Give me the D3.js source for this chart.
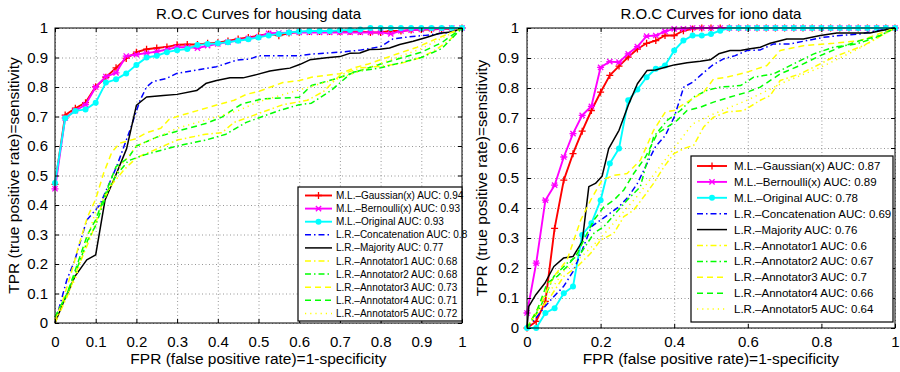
<!DOCTYPE html>
<html>
<head>
<meta charset="utf-8">
<script src="https://cdn.jsdelivr.net/npm/d3@7/dist/d3.min.js"></script>
<style>
  body { margin: 0; background: #fff; }
  svg { display: block; }
  text { font-family: "Liberation Sans", Arial, Helvetica, sans-serif; fill: #000; }
</style>
</head>
<body>
<svg id="chart" width="900" height="372"></svg>
<script>
// ---- shared tick values ----
const yTicks = [0, 0.1, 0.2, 0.3, 0.4, 0.5, 0.6, 0.7, 0.8, 0.9, 1];
const housingXTicks = [0, 0.1, 0.2, 0.3, 0.4, 0.5, 0.6, 0.7, 0.8, 0.9, 1];
const ionoXTicks = [0, 0.2, 0.4, 0.6, 0.8, 1];

// ---- series names and AUC values (legend) ----
const seriesNames = [
  "M.L.\u2013Gaussian(x)", "M.L.\u2013Bernoulli(x)", "M.L.\u2013Original",
  "L.R.\u2013Concatenation", "L.R.\u2013Majority",
  "L.R.\u2013Annotator1", "L.R.\u2013Annotator2", "L.R.\u2013Annotator3",
  "L.R.\u2013Annotator4", "L.R.\u2013Annotator5"
];
const housingAuc = ["0.94", "0.93", "0.93", "0.8", "0.77", "0.68", "0.68", "0.73", "0.71", "0.72"];
const ionoAuc = ["0.87", "0.89", "0.78", "0.69", "0.76", "0.6", "0.67", "0.7", "0.66", "0.64"];

// ---- FPR grid used by the marked (M.L.) curves ----
const gridFpr = [0, 0.025, 0.05, 0.075, 0.1, 0.125, 0.15, 0.175, 0.2, 0.225, 0.25, 0.275, 0.3, 0.325,
  0.35, 0.375, 0.4, 0.425, 0.45, 0.475, 0.5, 0.525, 0.55, 0.575, 0.6, 0.625, 0.65, 0.675, 0.7,
  0.725, 0.75, 0.775, 0.8, 0.825, 0.85, 0.875, 0.9, 0.925, 0.95, 0.975, 1];

// ---- housing data: TPR on the FPR grid ----
const housingGaussianTpr = [0.47, 0.705, 0.728, 0.747, 0.801, 0.833, 0.865, 0.897, 0.918, 0.928,
  0.932, 0.936, 0.943, 0.944, 0.944, 0.948, 0.95, 0.956, 0.963, 0.968,
  0.974, 0.98, 0.974, 0.983, 0.986, 0.988, 0.988, 0.988, 0.988, 0.988,
  0.988, 0.985, 0.985, 0.99, 0.99, 0.993, 0.995, 0.995, 0.997, 0.997, 1];
const housingBernoulliTpr = [0.455, 0.695, 0.72, 0.74, 0.8, 0.835, 0.848, 0.905, 0.91, 0.915,
  0.92, 0.927, 0.935, 0.935, 0.932, 0.94, 0.946, 0.952, 0.958, 0.965,
  0.97, 0.982, 0.983, 0.984, 0.985, 0.985, 0.985, 0.985, 0.985, 0.985,
  0.985, 0.985, 0.985, 0.98, 0.99, 0.993, 0.995, 0.997, 0.997, 1, 1];
const housingOriginalTpr = [0.475, 0.694, 0.719, 0.724, 0.747, 0.815, 0.826, 0.846, 0.875, 0.9,
  0.906, 0.918, 0.925, 0.929, 0.942, 0.946, 0.948, 0.952, 0.957, 0.962,
  0.968, 0.975, 0.98, 0.985, 0.988, 0.99, 0.99, 0.99, 0.992, 0.993,
  0.995, 1, 1, 1, 1, 1, 1, 1, 1, 1, 1];

// ---- housing data: [FPR, TPR] points for the L.R. curves ----
const housingConcatenation = [[0, 0], [0.029, 0.146], [0.049, 0.214], [0.078, 0.349], [0.11, 0.4],
  [0.151, 0.529], [0.184, 0.653], [0.209, 0.755], [0.225, 0.8], [0.24, 0.818], [0.274, 0.829],
  [0.299, 0.846], [0.349, 0.858], [0.397, 0.869], [0.446, 0.891], [0.479, 0.895], [0.5, 0.906],
  [0.6, 0.906], [0.634, 0.912], [0.7, 0.918], [0.75, 0.925], [0.8, 0.937], [0.83, 0.963],
  [0.87, 0.97], [0.91, 0.975], [0.97, 0.985], [1, 1]];
const housingMajority = [[0, 0], [0.02, 0.068], [0.049, 0.158], [0.078, 0.214], [0.1, 0.231],
  [0.123, 0.417], [0.151, 0.507], [0.176, 0.591], [0.2, 0.738], [0.225, 0.766], [0.266, 0.771],
  [0.3, 0.775], [0.348, 0.788], [0.372, 0.813], [0.397, 0.822], [0.43, 0.831], [0.462, 0.831],
  [0.495, 0.842], [0.528, 0.854], [0.552, 0.859], [0.577, 0.864], [0.601, 0.876], [0.626, 0.892],
  [0.667, 0.899], [0.7, 0.903], [0.724, 0.914], [0.749, 0.915], [0.773, 0.927], [0.798, 0.928],
  [0.822, 0.932], [0.847, 0.944], [0.88, 0.955], [0.912, 0.968], [0.945, 0.982], [0.978, 0.987], [1, 1]];
const housingAnnotator1 = [[0, 0], [0.03, 0.09], [0.06, 0.2], [0.09, 0.3], [0.12, 0.42], [0.14, 0.47],
  [0.17, 0.52], [0.2, 0.56], [0.25, 0.59], [0.3, 0.62], [0.37, 0.64], [0.41, 0.645], [0.44, 0.68],
  [0.47, 0.695], [0.51, 0.715], [0.56, 0.74], [0.62, 0.755], [0.66, 0.785], [0.7, 0.84], [0.75, 0.865],
  [0.8, 0.87], [0.85, 0.88], [0.9, 0.9], [0.94, 0.93], [0.97, 0.96], [1, 1]];
const housingAnnotator2 = [[0, 0.02], [0.03, 0.1], [0.05, 0.17], [0.08, 0.28], [0.1, 0.33], [0.13, 0.45],
  [0.15, 0.5], [0.18, 0.55], [0.22, 0.57], [0.3, 0.6], [0.37, 0.62], [0.42, 0.64], [0.47, 0.68],
  [0.5, 0.695], [0.55, 0.72], [0.6, 0.74], [0.63, 0.745], [0.68, 0.79], [0.73, 0.85], [0.8, 0.865],
  [0.9, 0.9], [0.95, 0.93], [1, 1]];
const housingAnnotator3 = [[0, 0.01], [0.02, 0.08], [0.04, 0.17], [0.06, 0.27], [0.08, 0.36], [0.1, 0.42],
  [0.12, 0.51], [0.14, 0.58], [0.16, 0.61], [0.2, 0.625], [0.225, 0.645], [0.26, 0.66], [0.28, 0.69],
  [0.3, 0.7], [0.35, 0.72], [0.4, 0.74], [0.44, 0.755], [0.47, 0.775], [0.5, 0.785], [0.53, 0.8],
  [0.56, 0.815], [0.6, 0.822], [0.63, 0.833], [0.7, 0.845], [0.74, 0.867], [0.77, 0.878],
  [0.84, 0.912], [0.89, 0.935], [0.945, 0.968], [1, 1]];
const housingAnnotator4 = [[0, 0.02], [0.03, 0.1], [0.05, 0.18], [0.08, 0.3], [0.1, 0.35], [0.13, 0.46],
  [0.15, 0.53], [0.18, 0.56], [0.2, 0.6], [0.25, 0.63], [0.3, 0.65], [0.37, 0.676], [0.41, 0.698],
  [0.44, 0.726], [0.46, 0.743], [0.51, 0.76], [0.58, 0.764], [0.6, 0.765], [0.63, 0.805], [0.69, 0.828],
  [0.75, 0.856], [0.8, 0.878], [0.855, 0.9], [0.9, 0.918], [0.95, 0.95], [1, 1]];
const housingAnnotator5 = [[0, 0.01], [0.05, 0.15], [0.1, 0.38], [0.13, 0.45], [0.16, 0.53], [0.2, 0.6],
  [0.25, 0.63], [0.3, 0.66], [0.35, 0.68], [0.4, 0.7], [0.45, 0.72], [0.5, 0.75], [0.55, 0.77],
  [0.6, 0.79], [0.7, 0.83], [0.8, 0.88], [0.9, 0.93], [1, 1]];

// ---- iono data: TPR on the FPR grid ----
const ionoGaussianTpr = [0, 0.022, 0.089, 0.332, 0.493, 0.581, 0.656, 0.725, 0.786, 0.842,
  0.873, 0.903, 0.93, 0.949, 0.958, 0.975, 0.975, 0.991, 0.997, 1,
  1, 1, 1, 1, 1, 1, 1, 1, 1, 1, 1, 1, 1, 1, 1, 1, 1, 1, 1, 1, 1];
const ionoBernoulliTpr = [0.05, 0.216, 0.426, 0.476, 0.57, 0.648, 0.709, 0.739, 0.869, 0.888,
  0.886, 0.914, 0.938, 0.973, 0.975, 0.989, 0.997, 0.997, 1, 1,
  1, 1, 1, 1, 1, 1, 1, 1, 1, 1, 1, 1, 1, 1, 1, 1, 1, 1, 1, 1, 1];
const ionoOriginalTpr = [0, 0, 0.05, 0.066, 0.116, 0.138, 0.31, 0.349, 0.426, 0.548,
  0.598, 0.759, 0.795, 0.836, 0.864, 0.875, 0.925, 0.958, 0.975, 0.975,
  0.98, 0.991, 1, 1, 1, 1, 1, 1, 1, 1, 1, 1, 1, 1, 1, 1, 1, 1, 1, 1, 1];

// ---- iono data: [FPR, TPR] points for the L.R. curves ----
const ionoConcatenation = [[0, 0], [0.024, 0.033], [0.049, 0.072], [0.073, 0.105], [0.099, 0.138],
  [0.125, 0.188], [0.15, 0.26], [0.175, 0.338], [0.2, 0.36], [0.225, 0.382], [0.25, 0.404],
  [0.275, 0.437], [0.3, 0.482], [0.326, 0.548], [0.349, 0.604], [0.376, 0.642], [0.4, 0.703],
  [0.426, 0.803], [0.451, 0.82], [0.476, 0.847], [0.503, 0.875], [0.534, 0.897], [0.566, 0.908],
  [0.598, 0.925], [0.634, 0.927], [0.67, 0.947], [0.715, 0.947], [0.76, 0.958], [0.806, 0.969],
  [0.851, 0.975], [0.905, 0.98], [0.95, 0.991], [1, 1]];
const ionoMajority = [[0, 0], [0.005, 0.072], [0.024, 0.111], [0.049, 0.15], [0.073, 0.205],
  [0.099, 0.233], [0.125, 0.238], [0.15, 0.288], [0.168, 0.471], [0.186, 0.482], [0.204, 0.506],
  [0.222, 0.598], [0.25, 0.659], [0.277, 0.748], [0.3, 0.814], [0.326, 0.858], [0.349, 0.86],
  [0.376, 0.869], [0.4, 0.877], [0.435, 0.884], [0.471, 0.889], [0.498, 0.894], [0.521, 0.914],
  [0.552, 0.925], [0.58, 0.925], [0.602, 0.93], [0.634, 0.936], [0.661, 0.949], [0.706, 0.963],
  [0.751, 0.963], [0.797, 0.975], [0.842, 0.983], [0.932, 0.983], [0.96, 0.991], [1, 1]];
const ionoAnnotator1 = [[0, 0], [0.028, 0.05], [0.064, 0.105], [0.1, 0.172], [0.137, 0.205],
  [0.173, 0.249], [0.2, 0.293], [0.236, 0.316], [0.263, 0.371], [0.29, 0.393], [0.317, 0.437],
  [0.344, 0.482], [0.372, 0.537], [0.399, 0.581], [0.426, 0.598], [0.453, 0.609], [0.48, 0.67],
  [0.507, 0.703], [0.543, 0.72], [0.589, 0.725], [0.634, 0.759], [0.661, 0.775], [0.688, 0.825],
  [0.742, 0.847], [0.788, 0.875], [0.833, 0.903], [0.914, 0.941], [1, 1]];
const ionoAnnotator2 = [[0, 0], [0.037, 0.072], [0.073, 0.172], [0.109, 0.216], [0.146, 0.249],
  [0.182, 0.316], [0.209, 0.338], [0.236, 0.376], [0.272, 0.426], [0.308, 0.471], [0.344, 0.637],
  [0.381, 0.692], [0.417, 0.725], [0.453, 0.77], [0.489, 0.792], [0.525, 0.803], [0.58, 0.808],
  [0.616, 0.836], [0.67, 0.847], [0.724, 0.88], [0.778, 0.913], [0.833, 0.936], [0.896, 0.947],
  [0.95, 0.969], [1, 1]];
const ionoAnnotator3 = [[0, 0], [0.037, 0.083], [0.073, 0.172], [0.109, 0.227], [0.146, 0.36],
  [0.173, 0.426], [0.204, 0.493], [0.236, 0.509], [0.272, 0.515], [0.308, 0.559], [0.344, 0.659],
  [0.376, 0.72], [0.399, 0.725], [0.435, 0.753], [0.48, 0.786], [0.507, 0.83], [0.543, 0.836],
  [0.598, 0.853], [0.652, 0.875], [0.688, 0.925], [0.751, 0.941], [0.833, 0.949], [0.905, 0.958], [1, 1]];
const ionoAnnotator4 = [[0, 0], [0.028, 0.061], [0.055, 0.15], [0.082, 0.172], [0.109, 0.205],
  [0.137, 0.249], [0.159, 0.305], [0.182, 0.36], [0.209, 0.404], [0.236, 0.426], [0.263, 0.46],
  [0.29, 0.515], [0.322, 0.57], [0.354, 0.648], [0.381, 0.67], [0.408, 0.692], [0.435, 0.725],
  [0.471, 0.736], [0.507, 0.753], [0.552, 0.77], [0.598, 0.786], [0.634, 0.803], [0.688, 0.847],
  [0.742, 0.875], [0.797, 0.908], [0.851, 0.936], [0.905, 0.958], [0.96, 0.975], [1, 1]];
const ionoAnnotator5 = [[0, 0], [0.05, 0.1], [0.1, 0.19], [0.15, 0.24], [0.2, 0.3], [0.25, 0.37],
  [0.3, 0.44], [0.35, 0.52], [0.4, 0.6], [0.45, 0.68], [0.5, 0.71], [0.6, 0.76], [0.7, 0.82],
  [0.8, 0.87], [0.9, 0.93], [1, 1]];

// ---- drawing styles for the ten series, in legend order ----
const styles = [
  { color: "#ff0000", width: 1.9, dash: null, marker: "plus" },
  { color: "#ff00ff", width: 1.9, dash: null, marker: "star" },
  { color: "#00ffff", width: 1.9, dash: null, marker: "dot" },
  { color: "#0000ff", width: 1.5, dash: "6,3,1.5,3", marker: null },
  { color: "#000000", width: 1.5, dash: null, marker: null },
  { color: "#ffff00", width: 1.5, dash: "6,3,1.5,3", marker: null },
  { color: "#00ff00", width: 1.5, dash: "6,3,1.5,3", marker: null },
  { color: "#ffff00", width: 1.5, dash: "6,4", marker: null },
  { color: "#00ff00", width: 1.5, dash: "6,4", marker: null },
  { color: "#ffff00", width: 1.5, dash: "1.2,4", marker: null }
];

function zipGrid(tpr) { return gridFpr.map((f, i) => [f, tpr[i]]); }

const svg = d3.select("#chart");

function markerPath(kind, r) {
  if (kind === "plus") return `M${-r},0H${r}M0,${-r}V${r}`;
  if (kind === "star") {
    const k = r * 0.75;
    return `M${-k},${-k}L${k},${k}M${-k},${k}L${k},${-k}M${-r},0H${r}`;
  }
  return null;
}

function drawMarkers(g, pts, st, x, y) {
  if (!st.marker) return;
  if (st.marker === "dot") {
    g.selectAll(null).data(pts).join("circle")
      .attr("cx", d => x(d[0])).attr("cy", d => y(d[1])).attr("r", 3)
      .attr("fill", st.color);
  } else {
    g.selectAll(null).data(pts).join("path")
      .attr("transform", d => `translate(${x(d[0])},${y(d[1])})`)
      .attr("d", markerPath(st.marker, 3.5))
      .attr("fill", "none").attr("stroke", st.color).attr("stroke-width", 1.3);
  }
}

function drawPanel(p) {
  const x = d3.scaleLinear().domain([0, 1]).range([p.left, p.right]);
  const y = d3.scaleLinear().domain([0, 1]).range([p.bottom, p.top]);
  const w = p.right - p.left, h = p.bottom - p.top;
  const g = svg.append("g");

  // white plot background
  g.append("rect").attr("x", p.left).attr("y", p.top).attr("width", w).attr("height", h).attr("fill", "#fff");

  // dotted grid
  const gridX = g.append("g").attr("transform", `translate(0,${p.bottom})`)
    .call(d3.axisBottom(x).tickValues(p.xTicks).tickSize(-h).tickFormat(""));
  const gridY = g.append("g").attr("transform", `translate(${p.left},0)`)
    .call(d3.axisLeft(y).tickValues(yTicks).tickSize(-w).tickFormat(""));
  [gridX, gridY].forEach(a => {
    a.select(".domain").remove();
    a.selectAll("line").attr("stroke", "#8a8a8a").attr("stroke-width", 0.9).attr("stroke-dasharray", "1,2.5");
  });

  // curves
  const line = d3.line().x(d => x(d[0])).y(d => y(d[1]));
  p.series.forEach((pts, i) => {
    const st = styles[i];
    const sg = g.append("g");
    sg.append("path").datum(pts).attr("d", line)
      .attr("fill", "none").attr("stroke", st.color).attr("stroke-width", st.width)
      .attr("stroke-dasharray", st.dash).attr("stroke-linejoin", "round");
    drawMarkers(sg, pts, st, x, y);
  });

  // axes with inward ticks on all four sides
  const tick = 4;
  const axB = g.append("g").attr("transform", `translate(0,${p.bottom})`)
    .call(d3.axisBottom(x).tickValues(p.xTicks).tickSizeInner(-tick).tickSizeOuter(0)
      .tickPadding(p.xPad).tickFormat(d => String(d)));
  const axL = g.append("g").attr("transform", `translate(${p.left},0)`)
    .call(d3.axisLeft(y).tickValues(yTicks).tickSizeInner(-tick).tickSizeOuter(0)
      .tickPadding(p.yPad).tickFormat(d => String(d)));
  const axT = g.append("g").attr("transform", `translate(0,${p.top})`)
    .call(d3.axisTop(x).tickValues(p.xTicks).tickSizeInner(-tick).tickSizeOuter(0).tickFormat(""));
  const axR = g.append("g").attr("transform", `translate(${p.right},0)`)
    .call(d3.axisRight(y).tickValues(yTicks).tickSizeInner(-tick).tickSizeOuter(0).tickFormat(""));
  [axB, axL, axT, axR].forEach(a => {
    a.select(".domain").remove();
    a.selectAll("line").attr("stroke", "#000").attr("stroke-width", 1);
    a.selectAll("text").attr("font-size", 15).attr("font-family", null).attr("fill", "#000");
  });
  g.append("rect").attr("x", p.left).attr("y", p.top).attr("width", w).attr("height", h)
    .attr("fill", "none").attr("stroke", "#000").attr("stroke-width", 1);

  // title and axis labels
  g.append("text").attr("x", (p.left + p.right) / 2).attr("y", 19)
    .attr("text-anchor", "middle").attr("font-size", 15).text(p.title);
  g.append("text").attr("x", (p.left + p.right) / 2).attr("y", 364)
    .attr("text-anchor", "middle").attr("font-size", 15.5).text("FPR (false positive rate)=1-specificity");
  g.append("text").attr("transform", `translate(${p.yLabelX},${(p.top + p.bottom) / 2}) rotate(-90)`)
    .attr("text-anchor", "middle").attr("font-size", 15.5).text("TPR (true positive rate)=sensitivity");

  // legend
  const L = p.legend;
  const lg = g.append("g");
  lg.append("rect").attr("x", L.x).attr("y", L.y).attr("width", L.w).attr("height", L.h)
    .attr("fill", "#fff").attr("stroke", "#000").attr("stroke-width", 1.2);
  seriesNames.forEach((name, i) => {
    const st = styles[i];
    const cy = L.y + L.first + i * L.step;
    const x1 = L.x + L.lineX0, x2 = L.x + L.lineX1;
    lg.append("line").attr("x1", x1).attr("x2", x2).attr("y1", cy).attr("y2", cy)
      .attr("stroke", st.color).attr("stroke-width", st.width)
      .attr("stroke-dasharray", st.dash);
    drawMarkers(lg, [[(x1 + x2) / 2, cy]], st, v => v, v => v);
    lg.append("text").attr("x", L.x + L.textX).attr("y", cy).attr("dy", "0.35em")
      .attr("font-size", L.font).text(`${name} AUC: ${p.auc[i]}`);
  });
}

drawPanel({
  left: 55, right: 462, top: 28, bottom: 323,
  xTicks: housingXTicks, xPad: 13, yPad: 7, yLabelX: 19,
  title: "R.O.C Curves for housing data",
  auc: housingAuc,
  series: [zipGrid(housingGaussianTpr), zipGrid(housingBernoulliTpr), zipGrid(housingOriginalTpr),
    housingConcatenation, housingMajority, housingAnnotator1, housingAnnotator2,
    housingAnnotator3, housingAnnotator4, housingAnnotator5],
  legend: { x: 298, y: 187, w: 164, h: 134, first: 8.5, step: 13.1, lineX0: 7, lineX1: 34, textX: 38, font: 10 }
});

drawPanel({
  left: 527, right: 895, top: 28, bottom: 328,
  xTicks: ionoXTicks, xPad: 8, yPad: 8, yLabelX: 487,
  title: "R.O.C Curves for iono data",
  auc: ionoAuc,
  series: [zipGrid(ionoGaussianTpr), zipGrid(ionoBernoulliTpr), zipGrid(ionoOriginalTpr),
    ionoConcatenation, ionoMajority, ionoAnnotator1, ionoAnnotator2,
    ionoAnnotator3, ionoAnnotator4, ionoAnnotator5],
  legend: { x: 691, y: 156, w: 202, h: 166, first: 10, step: 15.9, lineX0: 6, lineX1: 36, textX: 43, font: 11.5 }
});
</script>
</body>
</html>
